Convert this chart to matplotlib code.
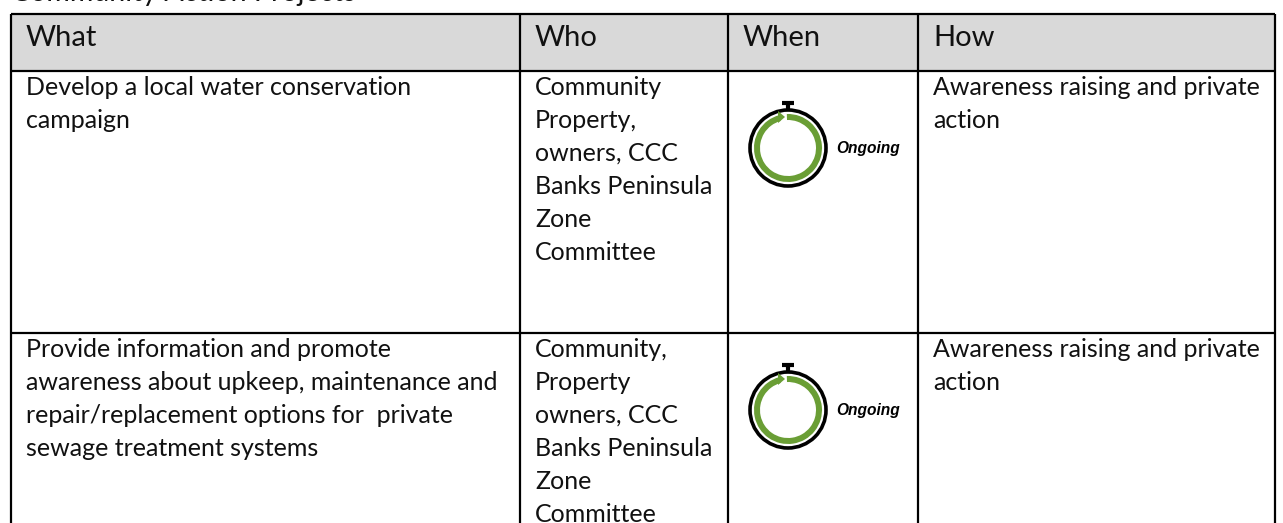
import matplotlib
matplotlib.use('Agg')
import matplotlib.pyplot as plt
from matplotlib.patches import Rectangle, Circle, Wedge, Polygon

plt.rcParams['font.family'] = ['Lato', 'DejaVu Sans']

W, H = 1283, 523

headers = ['What', 'Who', 'When', 'How']
what = ['Develop a local water conservation\ncampaign',
        'Provide information and promote\nawareness about upkeep, maintenance and\nrepair/replacement options for  private\nsewage treatment systems']
who = ['Community\nProperty,\nowners, CCC\nBanks Peninsula\nZone\nCommittee',
       'Community,\nProperty\nowners, CCC\nBanks Peninsula\nZone\nCommittee']
when = ['Ongoing', 'Ongoing']
how = ['Awareness raising and private\naction', 'Awareness raising and private\naction']

col_x = [11, 520, 728, 918, 1275]
row_y = [14, 71, 333, 523]

fig = plt.figure(figsize=(W / 100, H / 100), dpi=100)
ax = fig.add_axes([0, 0, 1, 1])
ax.set_xlim(0, W)
ax.set_ylim(H, 0)
ax.axis('off')

# header band
ax.add_patch(Rectangle((col_x[0], row_y[0]), col_x[-1] - col_x[0], row_y[1] - row_y[0], color='#d9d9d9', lw=0))

# grid lines
for x in col_x:
    ax.plot([x, x], [row_y[0], row_y[-1]], color='black', lw=1.6, solid_capstyle='butt')
for y in row_y[:-1]:
    ax.plot([col_x[0], col_x[-1]], [y, y], color='black', lw=1.6, solid_capstyle='butt')

# title cut off by the top edge, only the descenders show
ax.text(11, 0.5, 'Community Action Projects', fontsize=20.5, color='#111111', va='baseline')

for i, h in enumerate(headers):
    ax.text(col_x[i] + 15, 46, h, fontsize=21, va='baseline', color='#111111')


def timer(cx, cy, label):
    ax.add_patch(Circle((cx, cy), 38, fc='white', ec='black', lw=2.6))
    # y axis is flipped, so 270 degrees is the top of the ring
    ax.add_patch(Wedge((cx, cy), 34, 268, 255 + 360, width=6, color='#6a9e35', lw=0))
    # arrow head at the end of the ring
    ax.add_patch(Polygon([(cx - 3, cy - 31), (cx - 10, cy - 37), (cx - 10, cy - 25)], color='#6a9e35', lw=0))
    ax.plot([cx, cx], [cy - 44, cy - 38], color='black', lw=3, solid_capstyle='butt')
    ax.plot([cx - 6, cx + 6], [cy - 45, cy - 45], color='black', lw=3, solid_capstyle='butt')
    ax.text(cx + 48, cy + 1, label, fontsize=11.2, style='italic', weight='bold', va='center', family=['Liberation Sans'])


for r in range(2):
    ty = row_y[r + 1] + 24
    for i, col in [(0, what), (1, who), (3, how)]:
        for n, line in enumerate(col[r].split('\n')):
            ax.text(col_x[i] + 15, ty + n * 33, line, fontsize=18, va='baseline', color='#111111')
    timer(788, row_y[r + 1] + 77, when[r])

fig.savefig('out.png', dpi=100)
